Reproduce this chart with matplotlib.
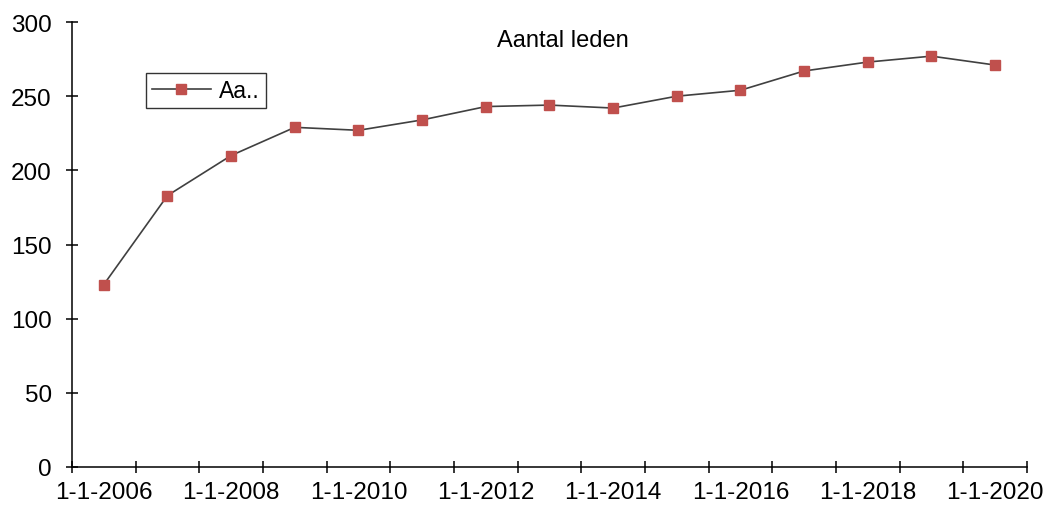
import matplotlib
matplotlib.use("Agg")
import matplotlib.pyplot as plt
import numpy as np

plt.rcParams["font.family"] = ["Liberation Sans", "DejaVu Sans"]

# data
years = list(range(2006, 2021))
dates = [f"1-1-{y}" for y in years]
members = [123, 183, 210, 229, 227, 234, 243, 244, 242, 250, 254, 267, 273, 277, 271]
series_label = "Aa.."
title = "Aantal leden"

fig = plt.figure(figsize=(10.46, 5.06), dpi=100)
ax = fig.add_axes([0.0688, 0.0751, 0.913, 0.8794])

x = np.arange(len(years))
ax.plot(x, members, color="#404040", linewidth=1.2, marker="s", markersize=7.3,
        markerfacecolor="#C0504D", markeredgecolor="#C0504D", label=series_label)

ax.set_xlim(-0.5, len(years) - 0.5)
ax.set_ylim(0, 300)
ax.set_yticks(np.arange(0, 301, 50))

# category axis: ticks between categories, labels on every other category
ax.set_xticks(np.arange(-0.5, len(years)), minor=False)
ax.set_xticklabels([])
ax.set_xticks(x[::2], minor=True)
ax.set_xticklabels(dates[::2], minor=True)
ax.tick_params(axis="x", which="minor", length=0, labelsize=17.5, pad=10)
ax.tick_params(axis="x", which="major", direction="inout", length=9, width=1.1)
ax.tick_params(axis="y", direction="inout", length=9, width=1.1, labelsize=17.5, pad=10)

for s in ["top", "right"]:
    ax.spines[s].set_visible(False)
for s in ["left", "bottom"]:
    ax.spines[s].set_linewidth(1.1)
    ax.spines[s].set_color("black")

fig.text(0.538, 0.918, title, fontsize=17, ha="center", va="center")

leg = ax.legend(loc="upper left", bbox_to_anchor=(0.0775, 0.885), frameon=True,
                fancybox=False, fontsize=16.5, handlelength=2.6, handletextpad=0.35,
                borderpad=0.25, borderaxespad=0)
leg.get_frame().set_edgecolor("black")
leg.get_frame().set_linewidth(1.0)

fig.savefig("out.png", dpi=100)
